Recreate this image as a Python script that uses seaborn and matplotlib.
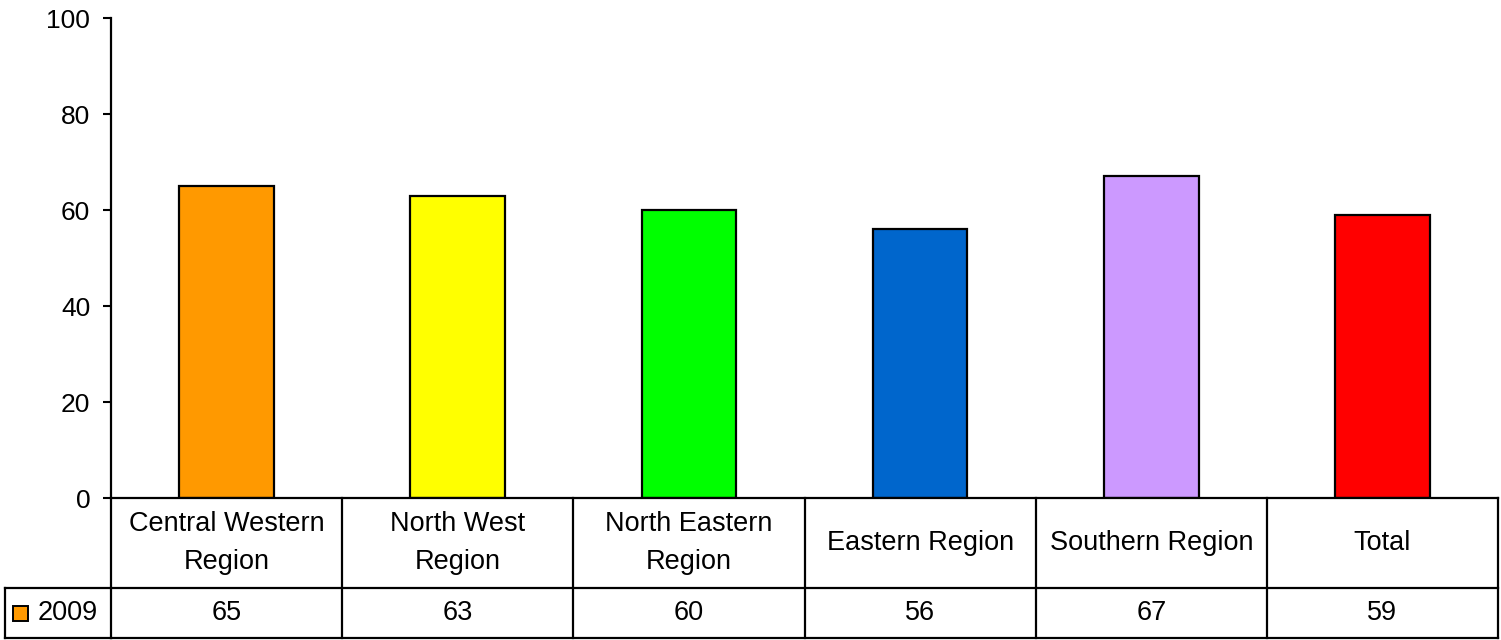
import matplotlib
matplotlib.use("Agg")
import matplotlib.pyplot as plt
import seaborn as sns
import pandas as pd
from matplotlib.patches import Rectangle

categories = ["Central Western Region", "North West Region", "North Eastern Region",
              "Eastern Region", "Southern Region", "Total"]
table_labels = ["Central Western\nRegion", "North West\nRegion", "North Eastern\nRegion",
                "Eastern Region", "Southern Region", "Total"]
values_2009 = [65, 63, 60, 56, 67, 59]
series_name = "2009"
bar_colors = ["#FF9900", "#FFFF00", "#00FF00", "#0066CC", "#CC99FF", "#FF0000"]

sns.set_style("white")
plt.rcParams["font.family"] = ["Liberation Sans", "DejaVu Sans"]
plt.rcParams["text.color"] = "black"
plt.rcParams["ytick.color"] = "black"

df = pd.DataFrame({"region": categories, "value": values_2009})

fig = plt.figure(figsize=(15.01, 6.4), dpi=100)
ax = fig.add_axes([111 / 1501, 1 - 498 / 640, 1387 / 1501, 480 / 640])

sns.barplot(data=df, x="region", y="value", hue="region", palette=bar_colors,
            order=categories, hue_order=categories, legend=False,
            width=0.41, edgecolor="black", linewidth=1.6, saturation=1, ax=ax)

ax.set_ylim(0, 100)
ax.set_xlim(-0.5, len(categories) - 0.5)
ax.set_yticks(range(0, 101, 20))
ax.tick_params(axis="y", labelsize=19, length=6, width=1.5, pad=9, direction="out",
               left=True, colors="black")
ax.tick_params(axis="x", bottom=False, labelbottom=False)
ax.set_xlabel("")
ax.set_ylabel("")
for side in ["top", "right"]:
    ax.spines[side].set_visible(False)
for side in ["left", "bottom"]:
    ax.spines[side].set_color("black")
    ax.spines[side].set_linewidth(1.6)

# data table below the axis
trans = ax.get_xaxis_transform()
row1_bot = -90 / 480
row2_bot = -140 / 480
legend_left = (5 - 111) / 1387
lw = 1.6
n = len(categories)
fs = 19.5

line_kw = dict(color="black", lw=lw, clip_on=False, solid_capstyle="projecting")
ax.plot([-0.5, n - 0.5], [row1_bot, row1_bot], transform=trans, **line_kw)
ax.plot([-0.5, n - 0.5], [row2_bot, row2_bot], transform=trans, **line_kw)
ax.plot([legend_left, 0], [row1_bot, row1_bot], transform=ax.transAxes, **line_kw)
ax.plot([legend_left, 0], [row2_bot, row2_bot], transform=ax.transAxes, **line_kw)
ax.plot([legend_left, legend_left], [row1_bot, row2_bot], transform=ax.transAxes, **line_kw)
for i in range(n + 1):
    ax.plot([i - 0.5, i - 0.5], [0, row2_bot], transform=trans, **line_kw)

for i, (lab, v) in enumerate(zip(table_labels, values_2009)):
    ax.text(i, row1_bot / 2, lab, transform=trans, ha="center", va="center",
            fontsize=fs, linespacing=1.6, color="black", clip_on=False)
    ax.text(i, (row1_bot + row2_bot) / 2, str(v), transform=trans, ha="center",
            va="center", fontsize=fs, color="black", clip_on=False)

# legend key in the table
key_x = (13 - 111) / 1387
key_h = 15 / 480
key_w = 15 / 1387
mid = (row1_bot + row2_bot) / 2
ax.add_patch(Rectangle((key_x, mid - key_h / 2), key_w, key_h, transform=ax.transAxes,
                       facecolor=bar_colors[0], edgecolor="black", lw=1.4, clip_on=False))
ax.text((38 - 111) / 1387, mid, series_name, transform=ax.transAxes, ha="left",
        va="center", fontsize=fs, color="black", clip_on=False)

fig.savefig("out.png", dpi=100)
